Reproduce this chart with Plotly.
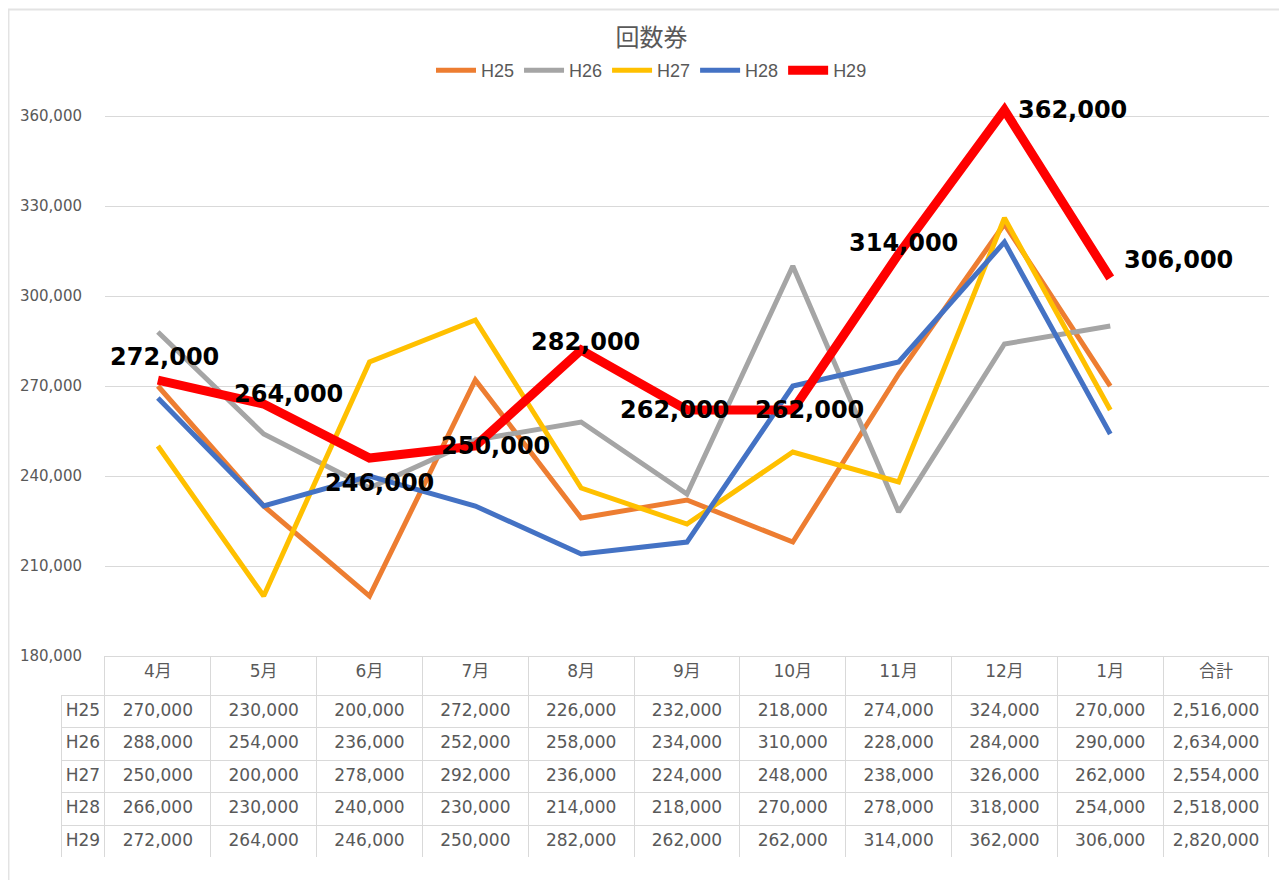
import plotly.graph_objects as go

# data
months = ['4月', '5月', '6月', '7月', '8月', '9月', '10月', '11月', '12月', '1月']
cols = months + ['合計']
years = ['H25', 'H26', 'H27', 'H28', 'H29']

h25 = [270000, 230000, 200000, 272000, 226000, 232000, 218000, 274000, 324000, 270000]
h26 = [288000, 254000, 236000, 252000, 258000, 234000, 310000, 228000, 284000, 290000]
h27 = [250000, 200000, 278000, 292000, 236000, 224000, 248000, 238000, 326000, 262000]
h28 = [266000, 230000, 240000, 230000, 214000, 218000, 270000, 278000, 318000, 254000]
h29 = [272000, 264000, 246000, 250000, 282000, 262000, 262000, 314000, 362000, 306000]
totals = [2516000, 2634000, 2554000, 2518000, 2820000]

series = [h25, h26, h27, h28, h29]
colors = ['#ED7D31', '#A5A5A5', '#FFC000', '#4472C4', '#FF0000']
widths = [5, 5, 5, 5, 9]

# label nudges for the H29 data labels (px)
lab_dx = [7, 25, 10, 20, 4, -12, 17, 5, 68, 68]
lab_dy = [23, 10, -25, 0, 8, 0, 0, 11, 0, 18]

txt = '#595959'
grid = '#D9D9D9'
clear = 'rgba(0,0,0,0)'
fnt = 'DejaVu Sans, Noto Sans CJK JP'

fig = go.Figure()

for name, vals, c, w in zip(years, series, colors, widths):
    fig.add_trace(go.Scatter(x=months, y=vals, name=name, mode='lines',
                             line=dict(color=c, width=w),
                             xaxis='x', yaxis='y'))

# data table under the plot
hdr = [''] + cols
cells = [years]
for i in range(len(months)):
    cells.append([f'{s[i]:,}' for s in series])
cells.append([f'{t:,}' for t in totals])

fig.add_trace(go.Table(
    domain=dict(x=[0, 1], y=[0, 0.2596]),
    columnwidth=[44] + [106] * len(cols),
    header=dict(values=hdr, height=39, align='center',
                fill_color=clear,
                line=dict(color=[clear] + [grid] * len(cols), width=1),
                font=dict(family=fnt, size=17, color=txt)),
    cells=dict(values=cells, height=32.5, align='center',
               fill_color=clear,
               line=dict(color=grid, width=1),
               font=dict(family=fnt, size=17, color=txt)),
))

for m, v, dx, dy in zip(months, h29, lab_dx, lab_dy):
    fig.add_annotation(x=m, y=v, text=f'{v:,}', showarrow=False,
                       xshift=dx, yshift=dy,
                       font=dict(family='DejaVu Sans', size=24, color='black', weight='bold'))

# light outer frame like the excel chart area
fig.add_shape(type='rect', xref='paper', yref='paper',
              x0=-0.0435, x1=1.05, y0=-0.05, y1=1.0905,
              line=dict(color='#E3E3E3', width=2), layer='below')

fig.update_layout(
    width=1287, height=880,
    margin=dict(l=53, r=26, t=72, b=30, autoexpand=False),
    paper_bgcolor='white', plot_bgcolor='white',
    title=dict(text='回数券', x=0.5, xref='container', y=1 - 30 / 880,
               yref='container', xanchor='center', yanchor='middle',
               font=dict(family='Noto Sans CJK JP', size=24, color=txt)),
    legend=dict(orientation='h', x=0.5, xref='container', xanchor='center',
                y=1 - 44 / 880, yref='container', yanchor='top',
                font=dict(family='Liberation Sans, Arial', size=18, color=txt),
                itemwidth=40, tracegroupgap=0),
    xaxis=dict(type='category', categoryorder='array', categoryarray=cols,
               range=[-0.5, len(cols) - 0.5], domain=[0.0364, 1],
               showticklabels=False, showgrid=False, zeroline=False,
               showline=False, ticks='', automargin=False),
    yaxis=dict(domain=[0.2596, 1], range=[180000, 372000],
               tickvals=list(range(180000, 360001, 30000)),
               tickformat=',', showgrid=True, gridcolor=grid, gridwidth=1,
               zeroline=False, showline=False, ticks='', automargin=False,
               ticklabelstandoff=22,
               tickfont=dict(family='DejaVu Sans', size=15, color=txt)),
    showlegend=True,
)

fig.write_html('out.html')
